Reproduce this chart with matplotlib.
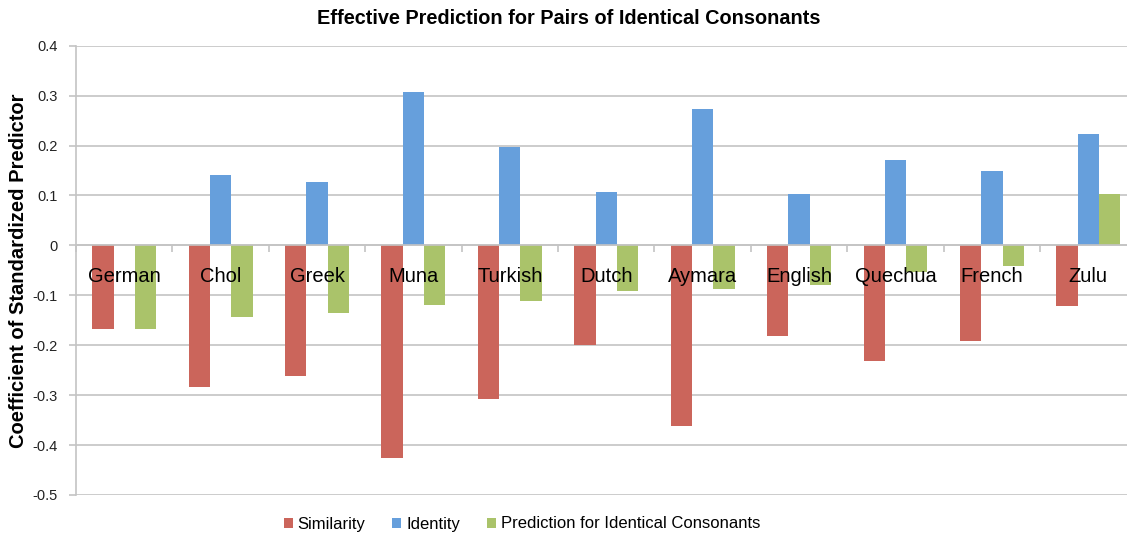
import matplotlib
matplotlib.use("Agg")
import matplotlib.pyplot as plt
from matplotlib.patches import Patch
import numpy as np

languages = ["German", "Chol", "Greek", "Muna", "Turkish", "Dutch", "Aymara",
             "English", "Quechua", "French", "Zulu"]
similarity = [-0.167, -0.284, -0.261, -0.425, -0.307, -0.199, -0.361, -0.182, -0.231, -0.191, -0.122]
identity = [0.0, 0.140, 0.127, 0.307, 0.197, 0.107, 0.273, 0.103, 0.171, 0.149, 0.224]
prediction = [-0.167, -0.143, -0.135, -0.120, -0.111, -0.091, -0.088, -0.080, -0.053, -0.042, 0.102]
series_names = ["Similarity", "Identity", "Prediction for Identical Consonants"]
yticks = [-0.5, -0.4, -0.3, -0.2, -0.1, 0, 0.1, 0.2, 0.3, 0.4]
ytick_labels = ["-0.5", "-0.4", "-0.3", "-0.2", "-0.1", "0", "0.1", "0.2", "0.3", "0.4"]

colors = ["#CB655B", "#669FDC", "#AAC36A"]
plt.rcParams['font.family'] = ['Liberation Sans', 'DejaVu Sans']

fig = plt.figure(figsize=(11.27, 5.37), dpi=100)
ax = fig.add_axes([76/1127, 1-495/537, 1060.5/1127, (495-45.7)/537])

n = len(languages)
x = np.arange(n) + 0.5
w = 0.221
for k, vals in enumerate([similarity, identity, prediction]):
    ax.bar(x + (k-1)*w, vals, width=w, color=colors[k], zorder=2,
           edgecolor='none')

ax.set_xlim(0, n)
ax.set_ylim(-0.5, 0.4)
ax.set_axisbelow(True)
ax.set_yticks(yticks)
ax.set_yticklabels(ytick_labels, fontsize=10.5, color='#222222')
ax.yaxis.grid(True, color='#C4C4C4', linewidth=1.2)
ax.tick_params(axis='y', length=5, color='#C4C4C4', width=1.2, pad=8)

ax.spines['top'].set_visible(False)
ax.spines['right'].set_visible(False)
ax.spines['left'].set_color('#C4C4C4')
ax.spines['left'].set_linewidth(1.2)
ax.spines['bottom'].set_position(('data', 0))
ax.spines['bottom'].set_color('#C4C4C4')
ax.spines['bottom'].set_linewidth(1.2)
ax.set_xticks(np.arange(0, n + 1))
ax.set_xticklabels([])
ax.tick_params(axis='x', length=5, color='#C4C4C4', width=1.2, direction='out')

for xi, name in zip(x, languages):
    ax.annotate(name, xy=(xi, 0), xytext=(0, -22.5), textcoords='offset points',
                ha='center', va='center', fontsize=14.5, color='black', zorder=5)

ax.set_ylabel("Coefficient of Standardized Predictor", fontsize=14.5, fontweight='bold')
ax.yaxis.set_label_coords(-(76-28)/1060.5, 0.5)

fig.text(569/1127, 1-18/537, "Effective Prediction for Pairs of Identical Consonants",
         ha='center', va='center', fontsize=14.3, fontweight='bold')

handles = [Patch(facecolor=c, edgecolor='none') for c in colors]
fig.legend(handles, series_names, loc='center', bbox_to_anchor=(522/1127, 1-524/537),
           ncol=3, frameon=False, fontsize=12, handlelength=0.55, handleheight=0.55,
           handletextpad=0.3, columnspacing=1.6)

fig.savefig("out.png", dpi=100)
